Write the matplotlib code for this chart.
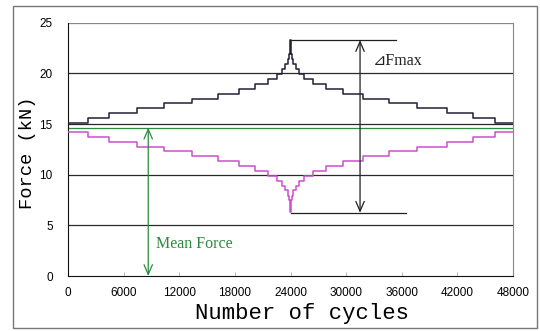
import numpy as np
import matplotlib
matplotlib.use("Agg")
import matplotlib.pyplot as plt
from matplotlib.patches import Rectangle

# step start positions (cycles), shared by both curves
cycles = [0, 2200, 4450, 7400, 10350, 13350, 16200, 18450, 20150, 21550, 22500,
          23050, 23450, 23700, 23850, 23960, 24040, 24150, 24300, 24550, 24950,
          25500, 26450, 27850, 29700, 31850, 34660, 37680, 40850, 43660, 46060, 48000]

# max force levels (kN)
f_max = [15.1, 15.6, 16.1, 16.6, 17.05, 17.5, 18.0, 18.5, 18.95, 19.45, 19.95,
         20.45, 20.95, 21.45, 21.9, 23.3, 21.9, 21.45, 20.95, 20.45, 19.95,
         19.45, 18.95, 18.5, 18.0, 17.5, 17.05, 16.6, 16.1, 15.6, 15.1, 15.1]

# min force levels (kN)
f_min = [14.2, 13.7, 13.2, 12.75, 12.3, 11.9, 11.4, 10.9, 10.4, 9.9, 9.4,
         8.9, 8.45, 7.95, 7.5, 6.3, 7.5, 7.95, 8.45, 8.9, 9.4,
         9.9, 10.4, 10.9, 11.4, 11.9, 12.3, 12.75, 13.2, 13.7, 14.2, 14.2]

mean_force = 14.65
peak_force = 23.3
dip_force = 6.25

x_ticks = [0, 6000, 12000, 18000, 24000, 30000, 36000, 42000, 48000]
y_ticks = [0, 5, 10, 15, 20, 25]

green = "#2a8a3e"

fig = plt.figure(figsize=(5.4, 3.31), dpi=100)
ax = fig.add_axes([0.126, 0.166, 0.824, 0.765])

# horizontal grid
for yv in y_ticks[1:]:
    ax.axhline(yv, color="#888888" if yv == 25 else "#2a2a2a", lw=0.9, zorder=1)

ax.step(cycles, f_max, where="post", color="#202038", lw=1.1, zorder=3)
ax.step(cycles, f_min, where="post", color="#cc4fcc", lw=1.1, zorder=3)

# mean force line + arrow
ax.axhline(mean_force, color=green, lw=0.9, zorder=2)
ax.annotate("", xy=(8650, 0), xytext=(8650, mean_force),
            arrowprops=dict(arrowstyle="<->,head_length=0.7,head_width=0.3",
                            color=green, lw=0.9, shrinkA=0, shrinkB=0))
ax.text(9500, 3.2, "Mean Force", color=green, fontsize=11.5,
        family="Liberation Serif", va="center", ha="left")

# delta F max dimension
ax.plot([24000, 35400], [peak_force, peak_force], color="#202020", lw=0.9)
ax.plot([24000, 36500], [dip_force, dip_force], color="#202020", lw=0.9)
ax.annotate("", xy=(31500, peak_force), xytext=(31500, dip_force),
            arrowprops=dict(arrowstyle="<->,head_length=0.7,head_width=0.3",
                            color="#202020", lw=0.9, shrinkA=0, shrinkB=0))
ax.text(32900, 21.2, "⊿Fmax", fontsize=11.5, family=["Liberation Serif", "DejaVu Sans"],
        va="center", ha="left", color="#202020")

ax.set_xlim(0, 48000)
ax.set_ylim(0, 25)
ax.set_xticks(x_ticks)
ax.set_yticks(y_ticks)
ax.set_xticklabels([str(v) for v in x_ticks], family="Liberation Sans", fontsize=8.5)
ax.set_yticklabels([str(v) for v in y_ticks], family="Liberation Sans", fontsize=8.5)
ax.tick_params(axis="x", direction="in", length=3, color="#bbbbbb", pad=8)
ax.tick_params(axis="y", length=0, pad=11)

ax.spines["top"].set_visible(False)
ax.spines["right"].set_color("#888888")
ax.spines["left"].set_color("#111111")
ax.spines["bottom"].set_color("#111111")

ax.set_xlabel("Number of cycles", family="Liberation Mono", fontsize=16, va="center")
ax.set_ylabel("Force (kN)", family="Liberation Mono", fontsize=13.5, va="center")
ax.xaxis.set_label_coords(0.525, -0.146)
ax.yaxis.set_label_coords(-0.092, 0.486)

# outer frame
fig.patches.append(Rectangle((13 / 540, 3 / 331), 524 / 540, 322 / 331,
                             transform=fig.transFigure, fill=False,
                             edgecolor="#777777", lw=1.0))

fig.savefig("out.png", dpi=100)
